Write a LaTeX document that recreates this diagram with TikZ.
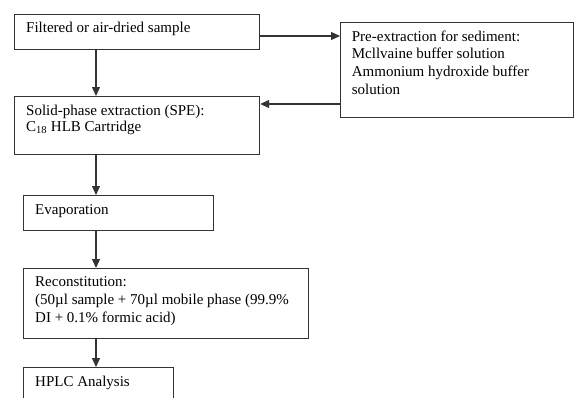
\documentclass[tikz,border=0pt]{standalone}
\usepackage{fontspec}
\setmainfont{Liberation Serif}
\usetikzlibrary{arrows.meta}
\begin{document}
\begin{tikzpicture}[x=1pt,y=-1pt,
  box/.style={draw=black!80, line width=1.2pt, inner sep=0pt, anchor=north west},
  lbl/.style={inner sep=0pt, anchor=base west, font=\fontsize{15}{17.7}\selectfont},
  arr/.style={draw=black!80, line width=1.2pt, -{Triangle[length=9pt,width=8pt]}}]
\clip (0,0) rectangle (574,397);
\fill[white] (0,0) rectangle (574,397);
% boxes
\node[box, minimum width=245pt, minimum height=35pt] (b1) at (14,14) {};
\node[box, minimum width=245pt, minimum height=58pt] (b2) at (14,96) {};
\node[box, minimum width=233pt, minimum height=95pt] (pre) at (340,22) {};
\node[box, minimum width=190pt, minimum height=35pt] (b3) at (23,195) {};
\node[box, minimum width=285pt, minimum height=70pt] (b4) at (23,268) {};
\node[box, minimum width=150pt, minimum height=45pt] (b5) at (23,367) {};
% texts
\node[lbl] (t1) at (26,32.3) {\parbox[t]{230pt}{Filtered or air-dried sample}};
\node[lbl, font=\fontsize{15}{16}\selectfont] (t2) at (26,115) {\parbox[t]{230pt}{Solid-phase extraction (SPE):\\C\textsubscript{18} HLB Cartridge}};
\node[lbl] (tp) at (351.7,41) {\parbox[t]{220pt}{Pre-extraction for sediment:\\Mcllvaine buffer solution\\Ammonium hydroxide buffer\\solution}};
\node[lbl] (t3) at (35,214.3) {\parbox[t]{170pt}{Evaporation}};
\node[lbl] (t4) at (35,286.7) {\parbox[t]{270pt}{Reconstitution:\\(50µl sample + 70µl mobile phase (99.9\%\\DI + 0.1\% formic acid)}};
\node[lbl] (t5) at (35,386) {\parbox[t]{130pt}{HPLC Analysis}};
% connectors
\coordinate (ax) at (96,0);
\coordinate (h1) at (0,36);
\coordinate (h2) at (0,104);
\draw[arr] (ax |- b1.south) -- (ax |- b2.north);
\draw[arr] (ax |- b2.south) -- (ax |- b3.north);
\draw[arr] (ax |- b3.south) -- (ax |- b4.north);
\draw[arr] (ax |- b4.south) -- (ax |- b5.north);
\draw[arr] (b1.east |- h1) -- (pre.west |- h1);
\draw[arr] (pre.west |- h2) -- (b2.east |- h2);
\end{tikzpicture}
\end{document}
